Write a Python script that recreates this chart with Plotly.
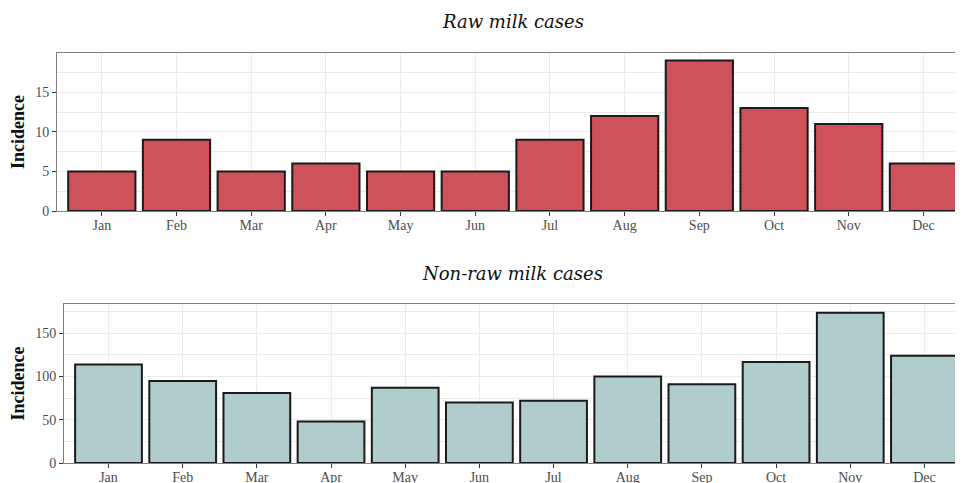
import plotly.graph_objects as go

months = ["Jan", "Feb", "Mar", "Apr", "May", "Jun", "Jul", "Aug", "Sep", "Oct", "Nov", "Dec"]
raw_cases = [5, 9, 5, 6, 5, 5, 9, 12, 19, 13, 11, 6]
nonraw_cases = [114, 95, 81, 48, 87, 70, 72, 100, 91, 117, 174, 124]

# page body has an 8px default margin, so the figure is offset by 8px
OFF = 8
W, H = 963 - OFF, 483 - OFF
RED = "#cf525a"
TEAL = "#b0cccb"
GRID = "#ebebeb"
SERIF = "Liberation Serif, Times New Roman, serif"
TITLE_FONT = "DejaVu Serif, Georgia, serif"


def px_y(p):
    return 1 - (p - OFF) / H


def px_x(p):
    return (p - OFF) / W


fig = go.Figure()
fig.add_trace(go.Bar(x=months, y=raw_cases, marker=dict(color=RED, line=dict(color="#1a1a1a", width=2)),
                     width=0.9, xaxis="x", yaxis="y", showlegend=False))
fig.add_trace(go.Bar(x=months, y=nonraw_cases, marker=dict(color=TEAL, line=dict(color="#1a1a1a", width=2)),
                     width=0.9, xaxis="x2", yaxis="y2", showlegend=False))

common_x = dict(type="category", showgrid=True, gridcolor=GRID, gridwidth=1,
                ticks="outside", ticklen=4, tickcolor="#333333", ticklabelstandoff=-3,
                tickfont=dict(family=SERIF, size=14, color="#4d4d4d"),
                showline=True, linecolor="#7f7f7f", linewidth=1, mirror=True,
                zeroline=False, automargin=False, fixedrange=True)
common_y = dict(showgrid=True, gridcolor=GRID, gridwidth=1,
                ticks="outside", ticklen=4, tickcolor="#333333",
                tickfont=dict(family=SERIF, size=14, color="#4d4d4d"),
                showline=True, linecolor="#7f7f7f", linewidth=1, mirror=False,
                zeroline=False, automargin=False,
                title=dict(text="<b>Incidence</b>", font=dict(family=SERIF, size=18, color="#111111"), standoff=6))

fig.update_layout(
    width=W, height=H,
    margin=dict(l=0, r=0, t=0, b=0),
    plot_bgcolor="white", paper_bgcolor="white",
    bargap=0.1,
    xaxis=dict(common_x, domain=[px_x(57), 1], range=[-0.6, 11.53], anchor="y"),
    yaxis=dict(common_y, domain=[px_y(211), px_y(53)], range=[0, 19.95], dtick=5,
               minor=dict(dtick=2.5, showgrid=True, gridcolor=GRID, ticks=""), anchor="x"),
    xaxis2=dict(common_x, domain=[px_x(64), 1], range=[-0.6, 11.52], anchor="y2"),
    yaxis2=dict(common_y, domain=[px_y(463), px_y(304)], range=[0, 184], dtick=50,
                minor=dict(dtick=25, showgrid=True, gridcolor=GRID, ticks=""), anchor="x2"),
    annotations=[
        dict(text="<i>Raw milk cases</i>", x=px_x(513), y=px_y(21), xref="paper", yref="paper",
             xanchor="center", yanchor="middle",
             showarrow=False, font=dict(family=TITLE_FONT, size=18, color="#111111")),
        dict(text="<i>Non-raw milk cases</i>", x=px_x(513), y=px_y(273), xref="paper", yref="paper",
             xanchor="center", yanchor="middle",
             showarrow=False, font=dict(family=TITLE_FONT, size=18, color="#111111")),
    ],
)

fig.write_html("out.html")
